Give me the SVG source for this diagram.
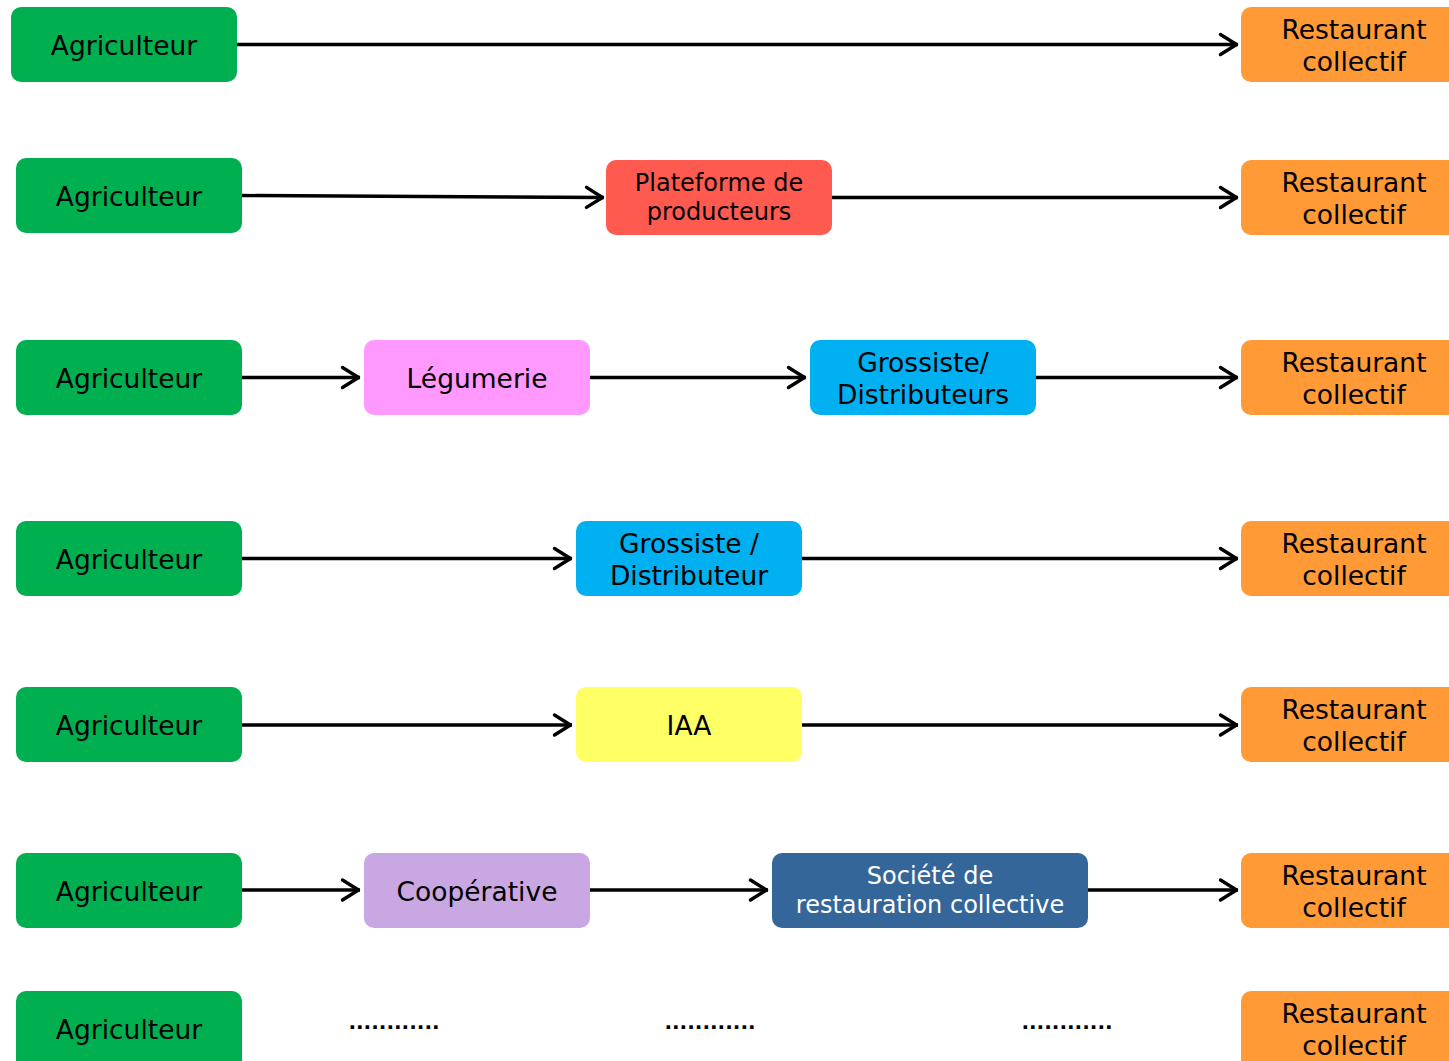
<svg xmlns="http://www.w3.org/2000/svg" width="1449" height="1061" viewBox="0 0 1449 1061">
<style>
text{font-family:"DejaVu Sans",Verdana,sans-serif;text-anchor:middle;dominant-baseline:central;fill:#000}
.big{font-size:26.5px}
.sm{font-size:24px}
.wt{fill:#fff}
.dots{font-size:20px;font-weight:bold;dominant-baseline:alphabetic}
.c{stroke:#000;stroke-width:3.4;fill:none;marker-end:url(#ah)}
.ag{fill:#00B050}.rc{fill:#FF9A36}
</style>
<defs>
<marker id="ah" markerUnits="userSpaceOnUse" markerWidth="24" markerHeight="30" refX="21.5" refY="12" orient="auto" viewBox="0 0 24 24">
<path d="M4,2 L20,12 L4,22" fill="none" stroke="#000" stroke-width="3.4" stroke-linecap="round" stroke-linejoin="round"/>
</marker>
</defs>
<g id="connectors">
<path class="c" d="M237,44.5 H1238"/>
<path class="c" d="M242,195.5 L604,197.5"/>
<path class="c" d="M832,197.5 H1238"/>
<path class="c" d="M242,377.5 H360"/>
<path class="c" d="M590,377.5 H806"/>
<path class="c" d="M1036,377.5 H1238"/>
<path class="c" d="M242,558.5 H572"/>
<path class="c" d="M802,558.5 H1238"/>
<path class="c" d="M242,725 H572"/>
<path class="c" d="M802,725 H1238"/>
<path class="c" d="M242,890 H360"/>
<path class="c" d="M590,890 H768"/>
<path class="c" d="M1088,890 H1238"/>
</g>
<g id="row1">
<g id="agri1"><rect class="ag" x="11" y="7" width="226" height="75" rx="10"/><text class="big" x="124" y="45">Agriculteur</text></g>
<g id="rest1"><rect class="rc" x="1241" y="7" width="226" height="75" rx="10"/><text class="big" x="1354" y="29">Restaurant</text><text class="big" x="1354" y="61">collectif</text></g>
</g>
<g id="row2">
<g id="agri2"><rect class="ag" x="16" y="158" width="226" height="75" rx="10"/><text class="big" x="129" y="196">Agriculteur</text></g>
<g id="plateforme"><rect fill="#FF5A50" x="606" y="160" width="226" height="75" rx="10"/><text class="sm" x="719" y="183">Plateforme de</text><text class="sm" x="719" y="212">producteurs</text></g>
<g id="rest2"><rect class="rc" x="1241" y="160" width="226" height="75" rx="10"/><text class="big" x="1354" y="182">Restaurant</text><text class="big" x="1354" y="214">collectif</text></g>
</g>
<g id="row3">
<g id="agri3"><rect class="ag" x="16" y="340" width="226" height="75" rx="10"/><text class="big" x="129" y="378">Agriculteur</text></g>
<g id="legumerie"><rect fill="#FF99FF" x="364" y="340" width="226" height="75" rx="10"/><text class="big" x="477" y="378">Légumerie</text></g>
<g id="grossiste1"><rect fill="#00B0F0" x="810" y="340" width="226" height="75" rx="10"/><text class="big" x="923" y="362">Grossiste/</text><text class="big" x="923" y="394">Distributeurs</text></g>
<g id="rest3"><rect class="rc" x="1241" y="340" width="226" height="75" rx="10"/><text class="big" x="1354" y="362">Restaurant</text><text class="big" x="1354" y="394">collectif</text></g>
</g>
<g id="row4">
<g id="agri4"><rect class="ag" x="16" y="521" width="226" height="75" rx="10"/><text class="big" x="129" y="559">Agriculteur</text></g>
<g id="grossiste2"><rect fill="#00B0F0" x="576" y="521" width="226" height="75" rx="10"/><text class="big" x="689" y="543">Grossiste /</text><text class="big" x="689" y="575">Distributeur</text></g>
<g id="rest4"><rect class="rc" x="1241" y="521" width="226" height="75" rx="10"/><text class="big" x="1354" y="543">Restaurant</text><text class="big" x="1354" y="575">collectif</text></g>
</g>
<g id="row5">
<g id="agri5"><rect class="ag" x="16" y="687" width="226" height="75" rx="10"/><text class="big" x="129" y="725">Agriculteur</text></g>
<g id="iaa"><rect fill="#FFFF66" x="576" y="687" width="226" height="75" rx="10"/><text class="big" x="689" y="725">IAA</text></g>
<g id="rest5"><rect class="rc" x="1241" y="687" width="226" height="75" rx="10"/><text class="big" x="1354" y="709">Restaurant</text><text class="big" x="1354" y="741">collectif</text></g>
</g>
<g id="row6">
<g id="agri6"><rect class="ag" x="16" y="853" width="226" height="75" rx="10"/><text class="big" x="129" y="891">Agriculteur</text></g>
<g id="cooperative"><rect fill="#C9A7E3" x="364" y="853" width="226" height="75" rx="10"/><text class="big" x="477" y="891">Coopérative</text></g>
<g id="societe"><rect fill="#356699" x="772" y="853" width="316" height="75" rx="10"/><text class="sm wt" x="930" y="876">Société de</text><text class="sm wt" x="930" y="905">restauration collective</text></g>
<g id="rest6"><rect class="rc" x="1241" y="853" width="226" height="75" rx="10"/><text class="big" x="1354" y="875">Restaurant</text><text class="big" x="1354" y="907">collectif</text></g>
</g>
<g id="row7">
<g id="agri7"><rect class="ag" x="16" y="991" width="226" height="85" rx="10"/><text class="big" x="129" y="1029">Agriculteur</text></g>
<text class="dots" x="394" y="1029">............</text>
<text class="dots" x="710" y="1029">............</text>
<text class="dots" x="1067" y="1029">............</text>
<g id="rest7"><rect class="rc" x="1241" y="991" width="226" height="85" rx="10"/><text class="big" x="1354" y="1013">Restaurant</text><text class="big" x="1354" y="1045">collectif</text></g>
</g>
</svg>
